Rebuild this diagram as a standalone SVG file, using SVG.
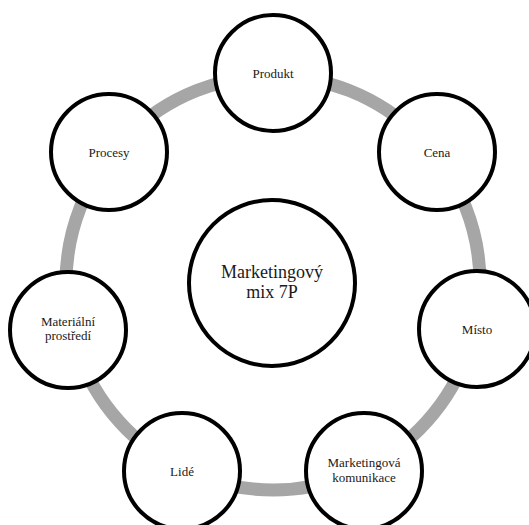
<svg xmlns="http://www.w3.org/2000/svg" width="529" height="525" viewBox="0 0 529 525">
<style>
.ring{fill:none;stroke:#a6a6a6;stroke-width:13}
.node{fill:#ffffff;stroke:#000000;stroke-width:4}
text{font-family:"Liberation Serif",serif;font-size:13px;fill:#1a1a1a;text-anchor:middle}
.big{font-size:18px}
</style>
<rect width="529" height="525" fill="#ffffff"/>
<g id="connectors">
<circle class="ring" cx="273" cy="283" r="207"/>
</g>
<g id="center">
<circle class="node" cx="272" cy="283" r="83"/>
<text class="big" x="272" y="278">Marketingový</text>
<text class="big" x="272" y="298">mix 7P</text>
</g>
<g id="produkt">
<circle class="node" cx="273" cy="73" r="58"/>
<text x="273" y="77.5">Produkt</text>
</g>
<g id="cena">
<circle class="node" cx="437" cy="152" r="58"/>
<text x="437" y="156.5">Cena</text>
</g>
<g id="misto">
<circle class="node" cx="477" cy="329" r="58"/>
<text x="477" y="333.5">Místo</text>
</g>
<g id="komunikace">
<circle class="node" cx="364" cy="471" r="58"/>
<text x="364" y="467">Marketingová</text>
<text x="364" y="482">komunikace</text>
</g>
<g id="lide">
<circle class="node" cx="182" cy="471" r="58"/>
<text x="182" y="475.5">Lidé</text>
</g>
<g id="materialni">
<circle class="node" cx="68" cy="330" r="58"/>
<text x="68" y="326">Materiální</text>
<text x="68" y="340">prostředí</text>
</g>
<g id="procesy">
<circle class="node" cx="109" cy="152" r="58"/>
<text x="109" y="156.5">Procesy</text>
</g>
</svg>
